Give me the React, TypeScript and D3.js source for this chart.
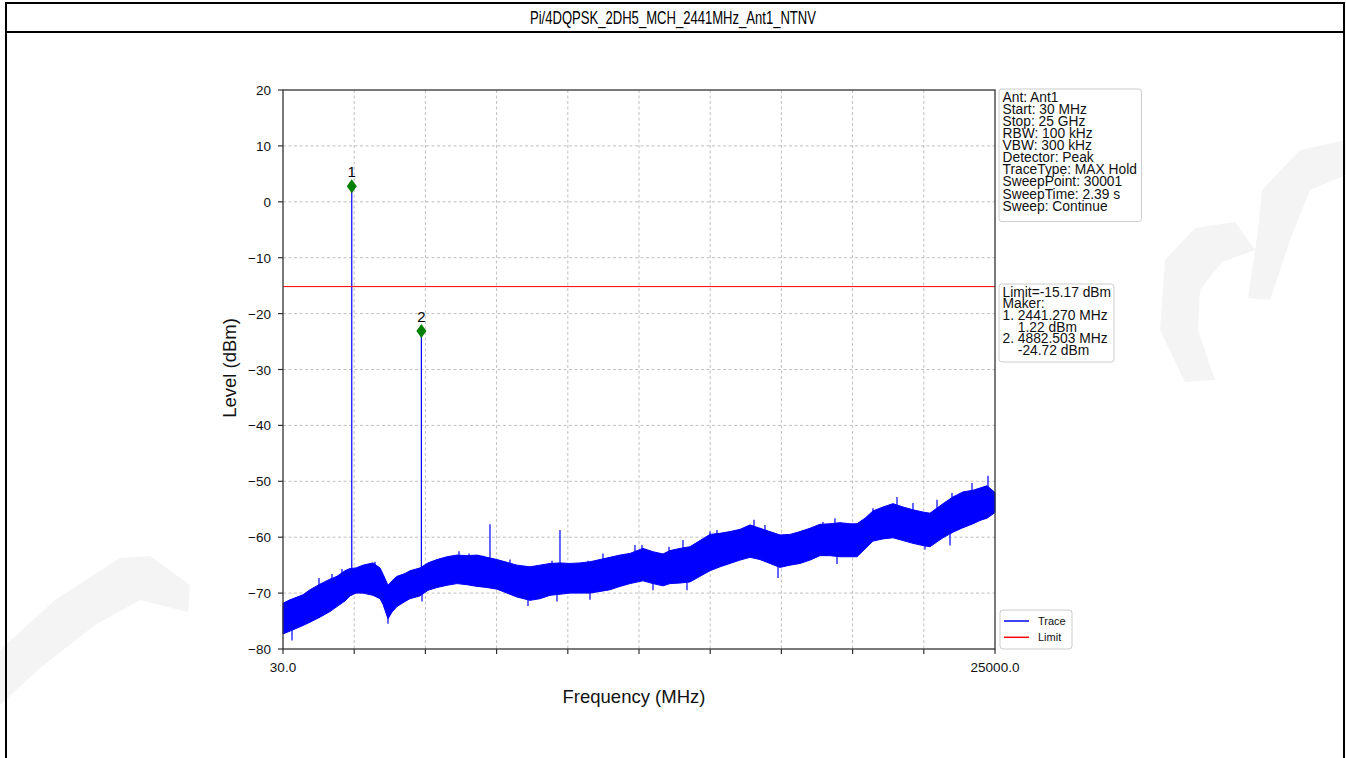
import React from "react";
import * as d3 from "d3";

// ---------------- data ----------------
const TITLE = "Pi/4DQPSK_2DH5_MCH_2441MHz_Ant1_NTNV";
const F_START = 30;
const F_STOP = 25000;
const LEVEL_MIN = -80;
const LEVEL_MAX = 20;
const yTicks = [20, 10, 0, -10, -20, -30, -40, -50, -60, -70, -80];
const xTicks = [30, 2527, 5024, 7521, 10018, 12515, 15012, 17509, 20006, 22503, 25000];
const xTickLabels = ["30.0", "", "", "", "", "", "", "", "", "", "25000.0"];
const limitLevel = -15.17;

const markerNames = ["1", "2"];
const markerFreq = [2441.27, 4882.503];
const markerLevel = [2.8, -23.1];

const infoLines = [
  "Ant: Ant1",
  "Start: 30 MHz",
  "Stop: 25 GHz",
  "RBW: 100 kHz",
  "VBW: 300 kHz",
  "Detector: Peak",
  "TraceType: MAX Hold",
  "SweepPoint: 30001",
  "SweepTime: 2.39 s",
  "Sweep: Continue",
];
const markerInfoLines = [
  "Limit=-15.17 dBm",
  "Maker:",
  "1. 2441.270 MHz",
  "    1.22 dBm",
  "2. 4882.503 MHz",
  "    -24.72 dBm",
];
const legendNames = ["Trace", "Limit"];

// noise floor envelope (MHz, dBm)
const noiseFreq = [30, 275, 731, 977, 1328, 1678, 1924, 2204, 2380, 2590, 2836, 3186, 3432, 3537, 3712, 3853, 4028, 4309, 4484, 4835, 5115, 5431, 5782, 6132, 6483, 6834, 7184, 7535, 7886, 8236, 8692, 9043, 9394, 9744, 10095, 10446, 10796, 11147, 11498, 11849, 12199, 12655, 13006, 13357, 13602, 13953, 14304, 14654, 15005, 15356, 15706, 16057, 16408, 16758, 17109, 17460, 17810, 18161, 18512, 18862, 19213, 19564, 19914, 20160, 20441, 20721, 21072, 21423, 21773, 22124, 22475, 22720, 23176, 23527, 23877, 24228, 24474, 24719, 25000];
const noiseUpper = [-71.8, -71.2, -70.3, -69.4, -68.4, -67.5, -67, -66, -65.6, -65.5, -65, -64.6, -65.5, -66.6, -68.6, -67.8, -67, -66.5, -66, -65.5, -64.6, -64, -63.5, -63.2, -63.3, -63.2, -63.6, -64, -64.5, -65, -65.3, -65, -64.7, -64.6, -64.7, -64.6, -64.4, -64, -63.6, -63.2, -62.9, -62, -62.6, -63, -62.4, -62, -61.7, -60.6, -59.5, -59.3, -59, -58.6, -57.8, -58.4, -59, -59.6, -59.5, -59, -58.4, -57.7, -57.6, -57.4, -57.6, -57.6, -56.6, -55.3, -54.6, -54, -54.6, -55.1, -55.5, -55.7, -54, -52.8, -51.9, -51.6, -51.2, -50.8, -52];
const noiseLower = [-77.3, -76.8, -75.8, -75.2, -74.3, -73.3, -72.4, -71.4, -70.5, -70, -70, -70.4, -71, -72, -74.6, -73.4, -72.4, -71.5, -71, -70.5, -69.5, -69, -68.6, -68.3, -68.5, -68.8, -69, -69.3, -70, -70.7, -71.3, -71, -70.4, -70.2, -70, -70, -70, -69.7, -69.4, -68.8, -68.3, -67.8, -68.3, -68.7, -68.3, -68.2, -68, -67, -66, -65.3, -64.7, -64.1, -63.6, -64, -64.7, -65.4, -65, -64.7, -64.1, -63.3, -63.3, -63.5, -63.5, -63.5, -62.1, -60.7, -60.3, -60.1, -60.6, -61.1, -61.5, -61.7, -60.1, -59.1, -58.3, -57.6, -57, -56.6, -55.6];

// narrow spikes in the trace (MHz, top dBm, base dBm)
const spikeFreq = [2441.27, 4882.503, 7289, 9744, 556, 1293, 1748, 2099, 2976, 3256, 5431, 6202, 6553, 7044, 7991, 8447, 9464, 10726, 11252, 12374, 12620, 13567, 14058, 15005, 15250, 16548, 16933, 18266, 18967, 19388, 19914, 20721, 21563, 22124, 22966, 23492, 24193, 24754, 346, 3712, 4905, 8622, 9639, 10796, 13006, 14198, 17390, 19459, 20195, 22545, 23422];
const spikeTop = [2.8, -23.1, -57.7, -58.7, -70.9, -67.3, -66.6, -65.7, -65, -64.4, -64.2, -62.5, -62.9, -63.3, -64, -65.3, -64.2, -64.2, -62.9, -61.4, -61.4, -61.7, -60.5, -59, -58.7, -56.9, -57.8, -58.7, -57.3, -56.6, -58.2, -54.8, -52.8, -53.9, -53.3, -52.1, -50.3, -49, -75, -72, -68, -68, -68, -67, -66, -65, -62, -61, -60, -58, -57];
const spikeBase = [-70, -70, -67, -68, -74, -72, -71, -70, -69, -68, -68, -66, -67, -67, -68, -69, -68, -68, -67, -65, -65, -65, -64, -63, -63, -61, -62, -62, -61, -61, -62, -59, -58, -58, -57, -56, -55, -54, -78.5, -75.5, -71.5, -72.3, -71.5, -71.2, -69.5, -69.5, -67.3, -64.8, -63.2, -62.2, -61.5];

// ---------------- layout ----------------
const W = 1346;
const H = 758;
const PL = 283, PR = 995, PT = 90, PB = 649;
const FONT = "'Liberation Sans', Arial, Helvetica, sans-serif";

export default function App() {
  const x = d3.scaleLinear().domain([F_START, F_STOP]).range([PL, PR]);
  const y = d3.scaleLinear().domain([LEVEL_MIN, LEVEL_MAX]).range([PB, PT]);

  const area = d3
    .area<number>()
    .x((_, i) => x(noiseFreq[i]))
    .y0((_, i) => y(noiseLower[i]))
    .y1((_, i) => y(noiseUpper[i]));
  const bandPath = area(noiseFreq) || "";

  const diamond = (cx: number, cy: number) =>
    `M${cx},${cy - 7}L${cx + 5},${cy}L${cx},${cy + 7}L${cx - 5},${cy}Z`;

  return (
    <svg
      width={W}
      height={H}
      style={{ position: "absolute", left: 0, top: 0, background: "#fff" }}
      fontFamily={FONT}
    >
      {/* faint watermark */}
      <g fill="#f4f4f4">
        <polygon points="0,650 55,600 120,558 150,556 190,585 188,612 140,600 95,625 40,668 0,705" />
        <polygon points="1165,260 1195,228 1235,222 1255,250 1222,262 1200,290 1198,330 1215,380 1185,382 1160,330" />
        <polygon points="1262,190 1300,150 1346,140 1346,175 1310,190 1290,240 1270,300 1248,298 1258,230" />
      </g>

      {/* page frame */}
      <line x1={6} y1={3} x2={1344} y2={3} stroke="#000" strokeWidth={2} />
      <line x1={6} y1={32} x2={1344} y2={32} stroke="#000" strokeWidth={2} />
      <line x1={6} y1={2} x2={6} y2={H} stroke="#000" strokeWidth={2} />
      <line x1={1344} y1={2} x2={1344} y2={H} stroke="#000" strokeWidth={2} />
      <text
        x={673}
        y={24}
        textAnchor="middle"
        fontSize={18}
        fontFamily="'Liberation Sans Narrow', 'Arial Narrow', 'Liberation Sans', Arial, sans-serif"
        textLength={286}
        lengthAdjust="spacingAndGlyphs"
      >
        {TITLE}
      </text>

      {/* grid */}
      {yTicks.slice(1, -1).map((t) => (
        <line key={"gy" + t} x1={PL} x2={PR} y1={y(t)} y2={y(t)} stroke="#b0b0b0" strokeWidth={0.8} strokeDasharray="3,2.5" />
      ))}
      {xTicks.slice(1, -1).map((t) => (
        <line key={"gx" + t} x1={x(t)} x2={x(t)} y1={PT} y2={PB} stroke="#b0b0b0" strokeWidth={0.8} strokeDasharray="3,2.5" />
      ))}

      {/* trace */}
      <path d={bandPath} fill="#0000ff" stroke="#0000ff" strokeWidth={1} />
      {spikeFreq.map((f, i) => (
        <line key={"sp" + i} x1={x(f)} x2={x(f)} y1={y(spikeBase[i])} y2={y(spikeTop[i])} stroke="#0000ff" strokeWidth={1.2} />
      ))}

      {/* limit */}
      <line x1={PL} x2={PR} y1={y(limitLevel)} y2={y(limitLevel)} stroke="#ff0000" strokeWidth={1} />

      {/* markers */}
      {markerFreq.map((f, i) => (
        <g key={"mk" + i}>
          <path d={diamond(x(f), y(markerLevel[i]))} fill="#008000" />
          <text x={x(f)} y={y(markerLevel[i]) - 9} textAnchor="middle" fontSize={15}>
            {markerNames[i]}
          </text>
        </g>
      ))}

      {/* axes frame */}
      <rect x={PL} y={PT} width={PR - PL} height={PB - PT} fill="none" stroke="#333" strokeWidth={1.3} />

      {/* y ticks */}
      {yTicks.map((t) => (
        <g key={"yt" + t}>
          <line x1={PL - 5} x2={PL} y1={y(t)} y2={y(t)} stroke="#333" strokeWidth={1.2} />
          <text x={PL - 12} y={y(t) + 5} textAnchor="end" fontSize={13.5} fill="#111">
            {t < 0 ? "\u2212" + Math.abs(t) : String(t)}
          </text>
        </g>
      ))}
      {/* x ticks */}
      {xTicks.map((t, i) => (
        <g key={"xt" + t}>
          <line x1={x(t)} x2={x(t)} y1={PB} y2={PB + 5} stroke="#333" strokeWidth={1.2} />
          {xTickLabels[i] && (
            <text x={x(t)} y={PB + 23} textAnchor="middle" fontSize={13.5} fill="#111">
              {xTickLabels[i]}
            </text>
          )}
        </g>
      ))}

      {/* axis labels */}
      <text x={634} y={703} textAnchor="middle" fontSize={18.5} fill="#111">
        Frequency (MHz)
      </text>
      <text
        transform={`translate(236,368) rotate(-90)`}
        textAnchor="middle"
        fontSize={18.5}
        fill="#111"
      >
        Level (dBm)
      </text>

      {/* info box */}
      <rect x={999} y={89} width={142.5} height={132.5} rx={3} fill="#fff" stroke="#cccccc" strokeWidth={1} />
      {infoLines.map((s, i) => (
        <text key={"in" + i} x={1002.5} y={101.5 + i * 12.14} fontSize={13.8} fill="#111">
          {s}
        </text>
      ))}

      {/* marker box */}
      <rect x={999} y={284} width={115} height={78} rx={3} fill="#fff" stroke="#cccccc" strokeWidth={1} />
      {markerInfoLines.map((s, i) => (
        <text key={"mi" + i} x={1002.5} y={296.5 + i * 11.7} fontSize={13.8} fill="#111" style={{ whiteSpace: "pre" }}>
          {s}
        </text>
      ))}

      {/* legend */}
      <rect x={1000} y={610} width={72} height={39} rx={3} fill="#fff" stroke="#cccccc" strokeWidth={1} />
      {legendNames.map((n, i) => (
        <g key={"lg" + i}>
          <line x1={1004} x2={1029} y1={621 + i * 16.3} y2={621 + i * 16.3} stroke={i === 0 ? "#0000ff" : "#ff0000"} strokeWidth={1.5} />
          <text x={1038} y={624.5 + i * 16.3} fontSize={11} fill="#111">
            {n}
          </text>
        </g>
      ))}
    </svg>
  );
}
